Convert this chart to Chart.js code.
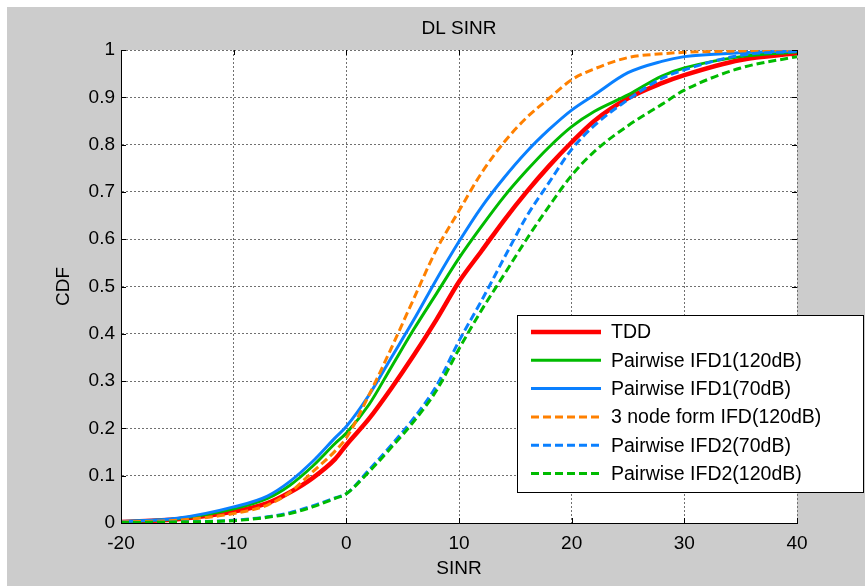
<!DOCTYPE html>
<html>
<head>
<meta charset="utf-8">
<script src="https://cdn.jsdelivr.net/npm/chart.js@4.4.1/dist/chart.umd.min.js"></script>
<style>
  html, body { margin: 0; padding: 0; background: #fff; }
  canvas { display: block; }
</style>
</head>
<body>
<canvas id="sinrChart" width="865" height="586"></canvas>
<script>
// SINR grid (dB) and CDF values
const sinr = [-20, -15, -10, -7, -5, -3, -1, 0, 2, 4, 6, 8, 10, 12, 14, 16, 18, 20, 22, 25, 28, 30, 35, 40];

const tdd       = [0.002, 0.008, 0.024, 0.042, 0.065, 0.095, 0.135, 0.165, 0.22, 0.285, 0.355, 0.43, 0.51, 0.575, 0.64, 0.70, 0.755, 0.805, 0.85, 0.898, 0.93, 0.947, 0.979, 0.993];
const ifd1_120  = [0.003, 0.009, 0.030, 0.052, 0.080, 0.120, 0.168, 0.190, 0.25, 0.33, 0.41, 0.485, 0.56, 0.627, 0.69, 0.745, 0.795, 0.838, 0.87, 0.905, 0.945, 0.962, 0.986, 0.996];
const ifd1_70   = [0.003, 0.010, 0.034, 0.057, 0.088, 0.130, 0.180, 0.204, 0.27, 0.35, 0.43, 0.515, 0.595, 0.668, 0.73, 0.785, 0.832, 0.873, 0.905, 0.952, 0.976, 0.986, 0.994, 0.998];
const node3_120 = [0.002, 0.006, 0.020, 0.038, 0.065, 0.108, 0.152, 0.180, 0.27, 0.37, 0.475, 0.578, 0.66, 0.74, 0.805, 0.857, 0.898, 0.937, 0.96, 0.984, 0.992, 0.995, 0.998, 1.0];
const ifd2_70   = [0.001, 0.002, 0.006, 0.013, 0.022, 0.036, 0.053, 0.062, 0.112, 0.165, 0.222, 0.29, 0.385, 0.47, 0.56, 0.648, 0.72, 0.79, 0.84, 0.895, 0.94, 0.958, 0.989, 0.997];
const ifd2_120  = [0.001, 0.002, 0.005, 0.012, 0.020, 0.034, 0.052, 0.062, 0.108, 0.16, 0.215, 0.28, 0.368, 0.45, 0.525, 0.60, 0.67, 0.735, 0.785, 0.84, 0.885, 0.915, 0.962, 0.986];

const seriesNames = ['TDD', 'Pairwise IFD1(120dB)', 'Pairwise IFD1(70dB)', '3 node form IFD(120dB)', 'Pairwise IFD2(70dB)', 'Pairwise IFD2(120dB)'];
const seriesValues = [tdd, ifd1_120, ifd1_70, node3_120, ifd2_70, ifd2_120];
const seriesColors = ['#ff0000', '#00bb00', '#0a80ff', '#ff8000', '#0a80ff', '#00bb00'];
const seriesDashed = [false, false, false, true, true, true];

const FONT = '"Liberation Sans", Arial, sans-serif';
const TITLE = 'DL SINR';

const datasets = seriesValues.map((vals, i) => ({
    label: seriesNames[i],
    data: sinr.map((x, k) => ({ x: x, y: vals[k] })),
    borderColor: seriesColors[i],
    borderWidth: i === 0 ? 4.5 : 3,
    borderDash: seriesDashed[i] ? [8, 4] : [],
    pointRadius: 0,
    fill: false,
    cubicInterpolationMode: 'monotone',
    order: seriesValues.length - i
}));

// grey figure background, white axes box, title centred over the axes
const figureBg = {
    id: 'figureBg',
    beforeDraw(chart) {
        const c = chart.ctx;
        const a = chart.chartArea;
        c.save();
        c.fillStyle = '#ffffff';
        c.fillRect(0, 0, chart.width, chart.height);
        c.fillStyle = '#cccccc';
        c.fillRect(7, 7, chart.width - 7, chart.height - 7);
        c.fillStyle = '#ffffff';
        c.fillRect(a.left, a.top, a.right - a.left, a.bottom - a.top);
        c.fillStyle = '#000';
        c.font = '19px ' + FONT;
        c.textAlign = 'center';
        c.textBaseline = 'middle';
        c.fillText(TITLE, (a.left + a.right) / 2, 29);
        c.restore();
    }
};

// matlab style ticks pointing inwards on all four sides
const innerTicks = {
    id: 'innerTicks',
    afterDatasetsDraw(chart) {
        const { ctx, chartArea: a, scales: { x, y } } = chart;
        ctx.save();
        ctx.strokeStyle = '#000';
        ctx.lineWidth = 1;
        ctx.beginPath();
        x.ticks.forEach(t => {
            const px = Math.round(x.getPixelForValue(t.value)) + 0.5;
            ctx.moveTo(px, a.bottom); ctx.lineTo(px, a.bottom - 5);
            ctx.moveTo(px, a.top); ctx.lineTo(px, a.top + 5);
        });
        y.ticks.forEach(t => {
            const py = Math.round(y.getPixelForValue(t.value)) + 0.5;
            ctx.moveTo(a.left, py); ctx.lineTo(a.left + 5, py);
            ctx.moveTo(a.right, py); ctx.lineTo(a.right - 5, py);
        });
        ctx.stroke();
        ctx.restore();
    }
};

// boxed legend sitting over the lower right of the plot
const boxLegend = {
    id: 'boxLegend',
    afterDraw(chart) {
        const c = chart.ctx;
        const x0 = 517, y0 = 315, w = 346, h = 177;
        c.save();
        c.fillStyle = '#fff';
        c.fillRect(x0, y0, w, h);
        c.strokeStyle = '#000';
        c.lineWidth = 1;
        c.strokeRect(x0 + 0.5, y0 + 0.5, w, h);
        chart.data.datasets.forEach((ds, i) => {
            const yy = 332 + i * 28.3;
            c.strokeStyle = ds.borderColor;
            c.lineWidth = ds.borderWidth;
            c.setLineDash(ds.borderDash);
            c.beginPath();
            c.moveTo(531, yy);
            c.lineTo(601, yy);
            c.stroke();
            c.setLineDash([]);
            c.fillStyle = '#000';
            c.font = '19.5px ' + FONT;
            c.textBaseline = 'middle';
            c.textAlign = 'left';
            c.fillText(ds.label, 611, yy + 1);
        });
        c.restore();
    }
};

new Chart(document.getElementById('sinrChart').getContext('2d'), {
    type: 'line',
    data: { datasets: datasets },
    plugins: [figureBg, innerTicks, boxLegend],
    options: {
        responsive: false,
        devicePixelRatio: 1,
        animation: false,
        layout: { autoPadding: false, padding: { left: 0, right: 68, top: 50, bottom: 0 } },
        plugins: {
            legend: { display: false },
            tooltip: { enabled: false },
            title: { display: false }
        },
        scales: {
            x: {
                type: 'linear',
                min: -20,
                max: 40,
                ticks: { stepSize: 10, color: '#000', font: { family: FONT, size: 19 }, padding: 9, maxRotation: 0 },
                grid: { color: '#707070', lineWidth: 1, drawTicks: false },
                border: { display: true, color: '#000', width: 1, dash: [2, 2] },
                title: { display: true, text: 'SINR', color: '#000', font: { family: FONT, size: 19 }, padding: { top: 0, bottom: 6 } },
                afterFit(s) { s.height = 63; }
            },
            y: {
                type: 'linear',
                min: 0,
                max: 1,
                ticks: { stepSize: 0.1, color: '#000', font: { family: FONT, size: 19 }, padding: 6,
                    callback: v => String(+v.toFixed(1)) },
                grid: { color: '#707070', lineWidth: 1, drawTicks: false },
                border: { display: true, color: '#000', width: 1, dash: [2, 2] },
                title: { display: true, text: 'CDF', color: '#000', font: { family: FONT, size: 19 }, padding: { top: 52, bottom: 0 } },
                afterFit(s) { s.width = 121; }
            }
        }
    }
});
</script>
</body>
</html>
